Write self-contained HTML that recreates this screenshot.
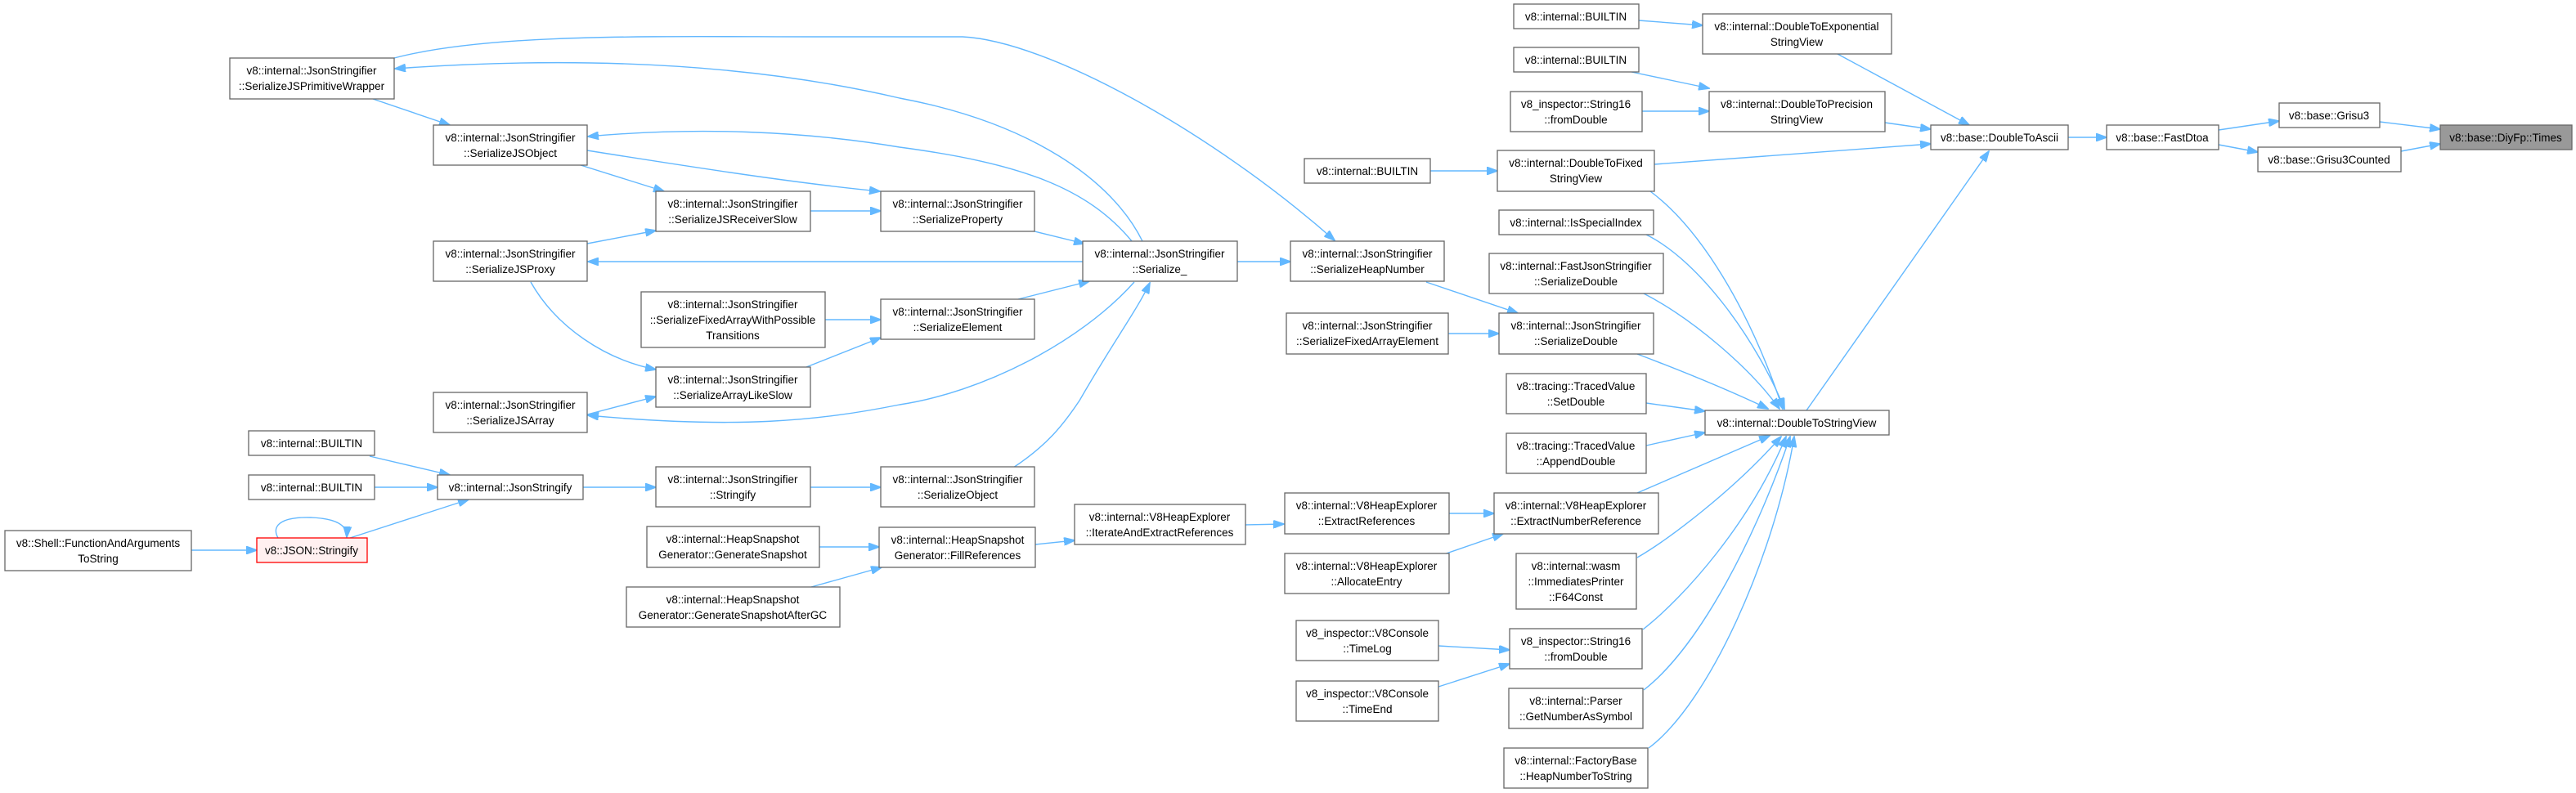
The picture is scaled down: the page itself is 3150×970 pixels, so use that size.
<!DOCTYPE html>
<html><head><meta charset="utf-8"><style>
html,body{margin:0;padding:0;background:#fff;}
svg{display:block;}
text{font-family:"Liberation Sans",sans-serif;font-size:13.5px;fill:#000;}
.n{fill:#fff;stroke:#666;stroke-width:1.3;}
.e{fill:none;stroke:#63b8ff;stroke-width:1.4;}
</style></head><body>
<svg width="3150" height="970" viewBox="0 0 3150 970" xmlns="http://www.w3.org/2000/svg">
<defs><marker id="a" markerWidth="14" markerHeight="10" refX="13" refY="5" orient="auto" markerUnits="userSpaceOnUse"><path d="M0,0 L14,5 L0,10 z" fill="#63b8ff" stroke="#63b8ff"/></marker></defs>
<g marker-end="url(#a)">
<path class="e" d="M2910,149 L2984,158"/>
<path class="e" d="M2936,185 L2984,176"/>
<path class="e" d="M2713,159 L2787,148"/>
<path class="e" d="M2713,177 L2761,186"/>
<path class="e" d="M2529,168 L2576,168"/>
<path class="e" d="M2247,66 L2408,153"/>
<path class="e" d="M2305,150 L2361,158"/>
<path class="e" d="M2023,201 L2361,176"/>
<path class="e" d="M2209,502 L2432,185"/>
<path class="e" d="M2004,25 L2082,31"/>
<path class="e" d="M1995,88 L2090,108"/>
<path class="e" d="M2008,136 L2090,136"/>
<path class="e" d="M1749,209 L1831,209"/>
<path class="e" d="M2018,234 C2080,280 2140,380 2180,500"/>
<path class="e" d="M2013,287 C2080,320 2150,420 2182,500"/>
<path class="e" d="M2010,359 C2070,390 2140,450 2176,500"/>
<path class="e" d="M2002,433 C2060,455 2120,480 2162,500"/>
<path class="e" d="M2013,493 L2085,503"/>
<path class="e" d="M2013,545 L2085,529"/>
<path class="e" d="M2002,603 L2164,533"/>
<path class="e" d="M2002,682 C2040,660 2120,600 2178,534"/>
<path class="e" d="M2009,770 C2060,730 2140,640 2184,534"/>
<path class="e" d="M2010,844 C2080,790 2150,650 2189,534"/>
<path class="e" d="M2016,915 C2090,860 2170,680 2194,534"/>
<path class="e" d="M1744,345 L1856,383"/>
<path class="e" d="M1771,408 L1833,408"/>
<path class="e" d="M1513,320 L1578,320"/>
<path class="e" d="M482,71 C600,40 800,45 1000,45 L1177,45 C1280,50 1480,160 1632,294"/>
<path class="e" d="M1397,295 C1360,220 1260,150 1100,120 C950,85 750,65 483,84"/>
<path class="e" d="M456,121 L550,153"/>
<path class="e" d="M1384,295 C1330,230 1250,200 1100,180 C980,160 850,155 719,167"/>
<path class="e" d="M710,202 L812,234"/>
<path class="e" d="M718,184 C850,205 980,225 1076,234"/>
<path class="e" d="M991,258 L1077,258"/>
<path class="e" d="M1265,283 L1326,298"/>
<path class="e" d="M1324,320 L719,320"/>
<path class="e" d="M718,298 L802,282"/>
<path class="e" d="M649,345 C680,400 740,440 802,452"/>
<path class="e" d="M1009,391 L1077,391"/>
<path class="e" d="M986,449 L1077,413"/>
<path class="e" d="M1245,366 L1332,344"/>
<path class="e" d="M718,507 L802,485"/>
<path class="e" d="M1387,345 C1320,420 1200,480 1100,495 C1000,515 900,525 719,508"/>
<path class="e" d="M1239,572 C1280,545 1300,520 1320,490 C1360,420 1390,380 1406,346"/>
<path class="e" d="M991,596 L1077,596"/>
<path class="e" d="M713,596 L802,596"/>
<path class="e" d="M452,558 L550,581"/>
<path class="e" d="M458,596 L535,596"/>
<path class="e" d="M428,658 L573,611"/>
<path class="e" d="M340,658 C330,640 350,632 380,633 C410,634 425,642 424,657"/>
<path class="e" d="M234,673 L314,673"/>
<path class="e" d="M1002,669 L1075,669"/>
<path class="e" d="M992,718 L1078,694"/>
<path class="e" d="M1266,666 L1314,661"/>
<path class="e" d="M1523,642 L1570,641"/>
<path class="e" d="M1772,628 L1827,628"/>
<path class="e" d="M1760,680 L1838,653"/>
<path class="e" d="M1759,790 L1846,795"/>
<path class="e" d="M1759,840 L1846,812"/>
</g>
<g text-anchor="middle">
<rect class="n" x="2984" y="153" width="161" height="30" style="fill:#999"/><text x="3064" y="173">v8::base::DiyFp::Times</text>
<rect class="n" x="2787" y="126" width="123" height="30"/><text x="2848" y="146">v8::base::Grisu3</text>
<rect class="n" x="2761" y="180" width="175" height="30"/><text x="2848" y="200">v8::base::Grisu3Counted</text>
<rect class="n" x="2576" y="153" width="137" height="30"/><text x="2644" y="173">v8::base::FastDtoa</text>
<rect class="n" x="2361" y="153" width="168" height="30"/><text x="2445" y="173">v8::base::DoubleToAscii</text>
<rect class="n" x="2082" y="17" width="231" height="49"/><text x="2197" y="37">v8::internal::DoubleToExponential</text><text x="2197" y="56">StringView</text>
<rect class="n" x="2090" y="112" width="215" height="49"/><text x="2197" y="132">v8::internal::DoubleToPrecision</text><text x="2197" y="151">StringView</text>
<rect class="n" x="1851" y="5" width="153" height="30"/><text x="1927" y="25">v8::internal::BUILTIN</text>
<rect class="n" x="1851" y="58" width="153" height="30"/><text x="1927" y="78">v8::internal::BUILTIN</text>
<rect class="n" x="1847" y="112" width="161" height="49"/><text x="1927" y="132">v8_inspector::String16</text><text x="1927" y="151">::fromDouble</text>
<rect class="n" x="1595" y="194" width="154" height="30"/><text x="1672" y="214">v8::internal::BUILTIN</text>
<rect class="n" x="1831" y="184" width="192" height="50"/><text x="1927" y="204">v8::internal::DoubleToFixed</text><text x="1927" y="223">StringView</text>
<rect class="n" x="1833" y="257" width="189" height="30"/><text x="1927" y="277">v8::internal::IsSpecialIndex</text>
<rect class="n" x="1821" y="310" width="213" height="49"/><text x="1927" y="330">v8::internal::FastJsonStringifier</text><text x="1927" y="349">::SerializeDouble</text>
<rect class="n" x="1833" y="383" width="189" height="50"/><text x="1927" y="403">v8::internal::JsonStringifier</text><text x="1927" y="422">::SerializeDouble</text>
<rect class="n" x="1842" y="457" width="171" height="49"/><text x="1927" y="477">v8::tracing::TracedValue</text><text x="1927" y="496">::SetDouble</text>
<rect class="n" x="2085" y="502" width="225" height="30"/><text x="2197" y="522">v8::internal::DoubleToStringView</text>
<rect class="n" x="1842" y="530" width="171" height="49"/><text x="1927" y="550">v8::tracing::TracedValue</text><text x="1927" y="569">::AppendDouble</text>
<rect class="n" x="1827" y="603" width="201" height="50"/><text x="1927" y="623">v8::internal::V8HeapExplorer</text><text x="1927" y="642">::ExtractNumberReference</text>
<rect class="n" x="1854" y="677" width="147" height="68"/><text x="1927" y="697">v8::internal::wasm</text><text x="1927" y="716">::ImmediatesPrinter</text><text x="1927" y="735">::F64Const</text>
<rect class="n" x="1846" y="769" width="162" height="49"/><text x="1927" y="789">v8_inspector::String16</text><text x="1927" y="808">::fromDouble</text>
<rect class="n" x="1845" y="842" width="164" height="49"/><text x="1927" y="862">v8::internal::Parser</text><text x="1927" y="881">::GetNumberAsSymbol</text>
<rect class="n" x="1839" y="915" width="176" height="49"/><text x="1927" y="935">v8::internal::FactoryBase</text><text x="1927" y="954">::HeapNumberToString</text>
<rect class="n" x="1571" y="603" width="201" height="50"/><text x="1671" y="623">v8::internal::V8HeapExplorer</text><text x="1671" y="642">::ExtractReferences</text>
<rect class="n" x="1571" y="677" width="201" height="49"/><text x="1671" y="697">v8::internal::V8HeapExplorer</text><text x="1671" y="716">::AllocateEntry</text>
<rect class="n" x="1585" y="759" width="174" height="49"/><text x="1672" y="779">v8_inspector::V8Console</text><text x="1672" y="798">::TimeLog</text>
<rect class="n" x="1585" y="833" width="174" height="49"/><text x="1672" y="853">v8_inspector::V8Console</text><text x="1672" y="872">::TimeEnd</text>
<rect class="n" x="1578" y="295" width="188" height="49"/><text x="1672" y="315">v8::internal::JsonStringifier</text><text x="1672" y="334">::SerializeHeapNumber</text>
<rect class="n" x="1573" y="383" width="198" height="50"/><text x="1672" y="403">v8::internal::JsonStringifier</text><text x="1672" y="422">::SerializeFixedArrayElement</text>
<rect class="n" x="1324" y="295" width="189" height="49"/><text x="1418" y="315">v8::internal::JsonStringifier</text><text x="1418" y="334">::Serialize_</text>
<rect class="n" x="1314" y="617" width="209" height="49"/><text x="1418" y="637">v8::internal::V8HeapExplorer</text><text x="1418" y="656">::IterateAndExtractReferences</text>
<rect class="n" x="1077" y="234" width="188" height="49"/><text x="1171" y="254">v8::internal::JsonStringifier</text><text x="1171" y="273">::SerializeProperty</text>
<rect class="n" x="1077" y="366" width="188" height="49"/><text x="1171" y="386">v8::internal::JsonStringifier</text><text x="1171" y="405">::SerializeElement</text>
<rect class="n" x="1077" y="571" width="188" height="49"/><text x="1171" y="591">v8::internal::JsonStringifier</text><text x="1171" y="610">::SerializeObject</text>
<rect class="n" x="1075" y="645" width="191" height="49"/><text x="1171" y="665">v8::internal::HeapSnapshot</text><text x="1171" y="684">Generator::FillReferences</text>
<rect class="n" x="802" y="234" width="189" height="49"/><text x="896" y="254">v8::internal::JsonStringifier</text><text x="896" y="273">::SerializeJSReceiverSlow</text>
<rect class="n" x="784" y="357" width="225" height="68"/><text x="896" y="377">v8::internal::JsonStringifier</text><text x="896" y="396">::SerializeFixedArrayWithPossible</text><text x="896" y="415">Transitions</text>
<rect class="n" x="802" y="449" width="189" height="49"/><text x="896" y="469">v8::internal::JsonStringifier</text><text x="896" y="488">::SerializeArrayLikeSlow</text>
<rect class="n" x="802" y="571" width="189" height="49"/><text x="896" y="591">v8::internal::JsonStringifier</text><text x="896" y="610">::Stringify</text>
<rect class="n" x="791" y="644" width="211" height="50"/><text x="896" y="664">v8::internal::HeapSnapshot</text><text x="896" y="683">Generator::GenerateSnapshot</text>
<rect class="n" x="766" y="718" width="261" height="49"/><text x="896" y="738">v8::internal::HeapSnapshot</text><text x="896" y="757">Generator::GenerateSnapshotAfterGC</text>
<rect class="n" x="530" y="153" width="188" height="49"/><text x="624" y="173">v8::internal::JsonStringifier</text><text x="624" y="192">::SerializeJSObject</text>
<rect class="n" x="530" y="295" width="188" height="49"/><text x="624" y="315">v8::internal::JsonStringifier</text><text x="624" y="334">::SerializeJSProxy</text>
<rect class="n" x="530" y="480" width="188" height="49"/><text x="624" y="500">v8::internal::JsonStringifier</text><text x="624" y="519">::SerializeJSArray</text>
<rect class="n" x="535" y="581" width="178" height="30"/><text x="624" y="601">v8::internal::JsonStringify</text>
<rect class="n" x="281" y="71" width="201" height="50"/><text x="381" y="91">v8::internal::JsonStringifier</text><text x="381" y="110">::SerializeJSPrimitiveWrapper</text>
<rect class="n" x="304" y="527" width="154" height="30"/><text x="381" y="547">v8::internal::BUILTIN</text>
<rect class="n" x="304" y="581" width="154" height="30"/><text x="381" y="601">v8::internal::BUILTIN</text>
<rect class="n" x="314" y="658" width="135" height="30" style="fill:#fff0f0;stroke:#f00"/><text x="381" y="678">v8::JSON::Stringify</text>
<rect class="n" x="6" y="649" width="228" height="49"/><text x="120" y="669">v8::Shell::FunctionAndArguments</text><text x="120" y="688">ToString</text>
</g>
</svg>
</body></html>
